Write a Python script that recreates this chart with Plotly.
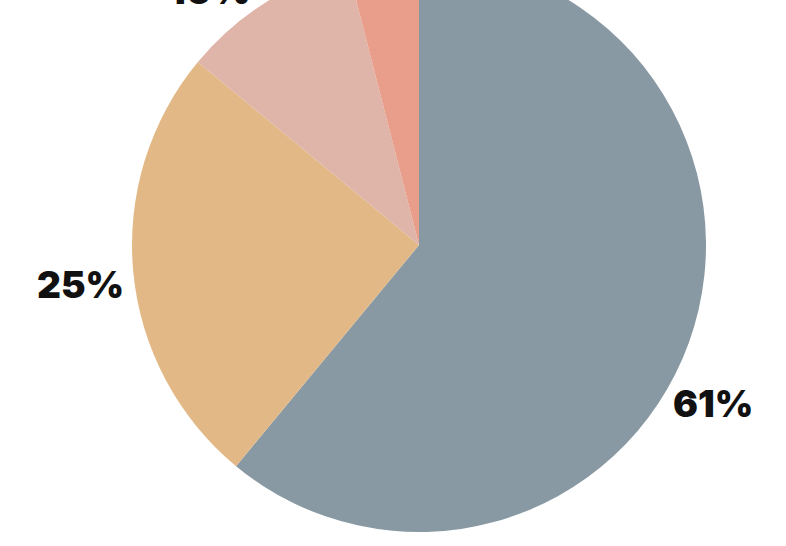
import plotly.graph_objects as go

labels = ["A", "B", "C", "D"]
values = [61, 25, 10, 4]
colors = ["#8899a3", "#e2b986", "#dfb4a9", "#e89e8a"]

# label anchor positions (paper coords of the 786x588 figure)
label_x = [0.9071, 0.1018, 0.2672, 0.48]
label_y = [0.2423, 0.4439, 0.9440, 1.12]

W, H = 786, 588
fig = go.Figure(go.Pie(
    labels=labels,
    values=values,
    sort=False,
    direction="clockwise",
    rotation=0,
    marker=dict(colors=colors, line=dict(width=0)),
    textinfo="none",
    hoverinfo="label+percent",
    showlegend=False,
    domain=dict(x=[132 / W, 706 / W], y=[(H - 574) / H, 1.0]),
))

total = sum(values)
for v, x, y in zip(values, label_x, label_y):
    fig.add_annotation(
        text=f"{round(100 * v / total)}%",
        x=x, y=y, xref="paper", yref="paper",
        xanchor="center", yanchor="middle",
        showarrow=False,
        font=dict(family="Inter", size=37, color="#111111", weight=900),
    )

fig.update_layout(
    width=W, height=H,
    margin=dict(l=0, r=0, t=0, b=0),
    paper_bgcolor="white",
    plot_bgcolor="white",
)

post = (
    "var gd=document.getElementById('{plot_id}');"
    "document.body.style.margin='0';"
    "document.body.style.overflow='hidden';"
    "gd.style.marginTop='-42px';"
)
fig.write_html("out.html", post_script=post)
